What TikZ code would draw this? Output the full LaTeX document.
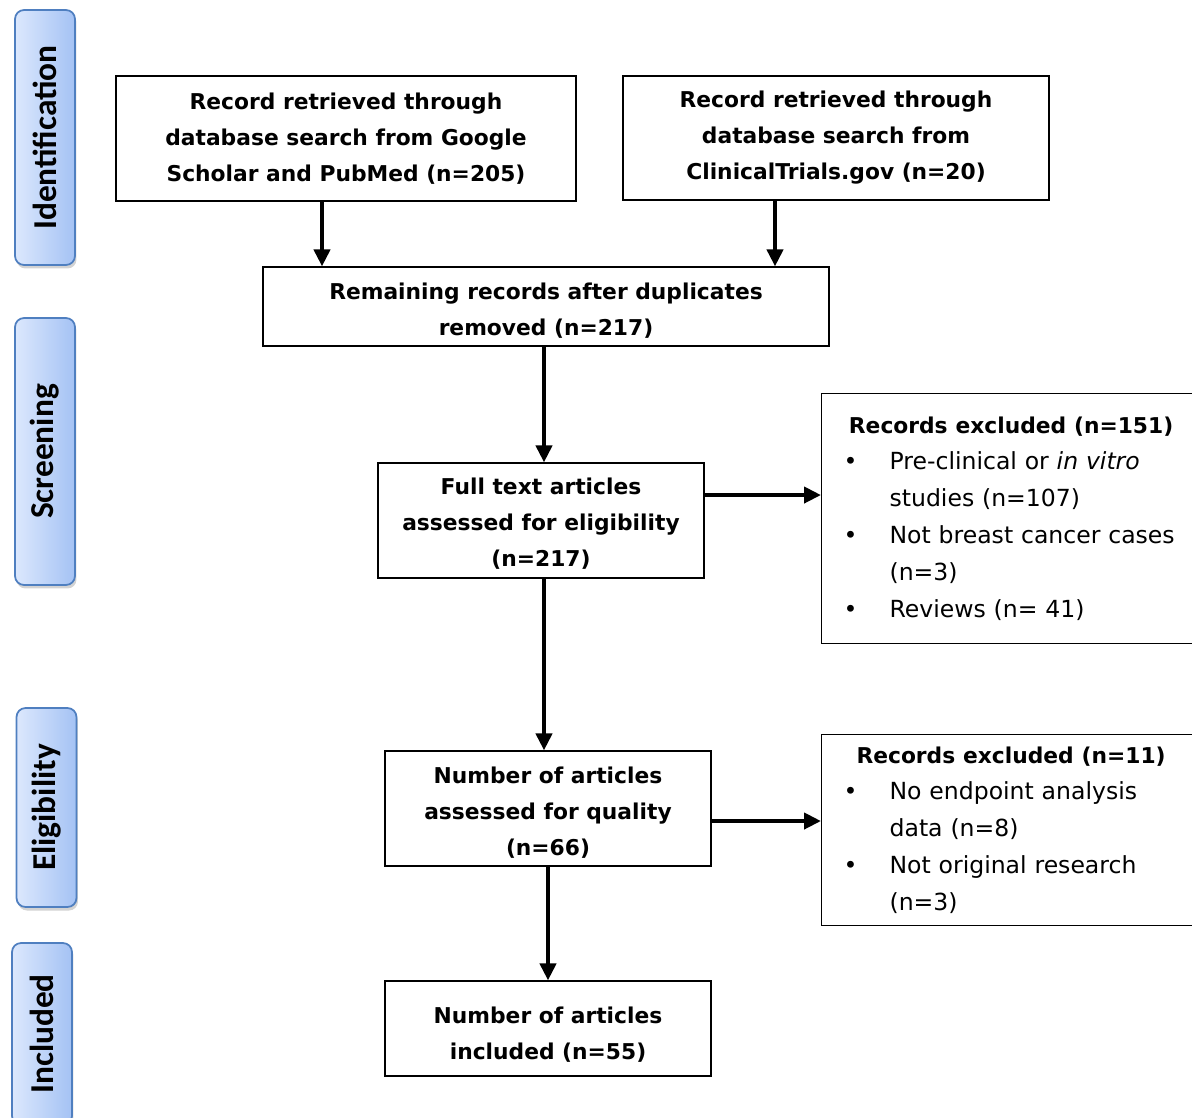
\documentclass[tikz,border=0pt]{standalone}
\usepackage{fontspec}
\setmainfont{DejaVu Sans}
\newfontfamily\sidefont{Carlito}
\usetikzlibrary{arrows.meta, shadows}
\definecolor{sideblue}{HTML}{4F7FC0}
\definecolor{sidelight}{HTML}{DCE8FD}
\definecolor{sidedark}{HTML}{A4C2F4}
\tikzstyle{arrow} = [line width=2.3pt,-{Triangle[length=0.34cm,width=0.32cm]}]
\newcommand\boxstrut[1]{\rule{0pt}{#1}}

\begin{document}
\begin{tikzpicture}
        [
            x=0.02cm, y=-0.02cm,
            box/.style={rectangle,draw=black,line width=0.7pt,align=center,inner sep=0pt,
                font=\fontsize{12.4}{20.5}\selectfont\bfseries},
            exclbox/.style={rectangle,draw=black,line width=0.7pt,align=left,anchor=north west,
                inner xsep=0.44cm,inner ysep=0pt,text width=6.7cm,
                font=\fontsize{13.4}{21}\selectfont},
            stage/.style={rectangle,rounded corners=0.18cm,draw=sideblue,line width=1pt,
                left color=sidelight,right color=sidedark,minimum width=1.2cm,
                drop shadow={shadow xshift=0.03cm,shadow yshift=-0.07cm,opacity=0.35},
                font=\sidefont\fontsize{19}{19}\selectfont\bfseries},
        ]

    \useasboundingbox (0,0) rectangle (1192,1117);

    % stages on the left
    \node[stage,minimum height=5.1cm] (ident) at (45,137.5){\rotatebox{90}{Identification}};
    \node[stage,minimum height=5.34cm] (screen) at (45,451.5){\rotatebox{90}{Screening}};
    \node[stage,minimum height=3.98cm] (elig) at (46.5,807.5){\rotatebox{90}{Eligibility}};
    \node[stage,minimum height=3.64cm] (incl) at (42,1034){\rotatebox{90}{Included}};

    % main boxes
    \node[box,minimum width=9.2cm,minimum height=2.5cm] (scholar) at (346,138.5)
        {Record retrieved through\\database search from Google\\Scholar and PubMed (n=205)};
    \node[box,minimum width=8.52cm,minimum height=2.48cm] (trials) at (836,138)
        {Record retrieved through\\database search from\\ClinicalTrials.gov (n=20)};
    \node[box,minimum width=11.32cm,minimum height=1.58cm] (dedup) at (546,306.5)
        {\boxstrut{14pt}Remaining records after duplicates\\removed (n=217)};
    \node[box,minimum width=6.52cm,minimum height=2.3cm] (fulltext) at (541,520.5)
        {\boxstrut{13.5pt}Full text articles\\assessed for eligibility\\(n=217)};
    \node[box,minimum width=6.52cm,minimum height=2.3cm] (quality) at (548,808.5)
        {\boxstrut{14pt}Number of articles\\assessed for quality\\(n=66)};
    \node[box,minimum width=6.52cm,minimum height=1.9cm] (included) at (548,1028.5)
        {\boxstrut{16pt}Number of articles\\included (n=55)};

    % excluded records
    \node[exclbox,minimum height=5cm] (excl1) at (821,393)
        {\makebox[\linewidth]{\fontsize{12.4}{21}\selectfont\bfseries Records excluded (n=151)}\\
         \makebox[0.92cm][l]{\textbullet}Pre-clinical or \textit{in vitro}\\
         \hspace*{0.92cm}studies (n=107)\\
         \makebox[0.92cm][l]{\textbullet}Not breast cancer cases\\
         \hspace*{0.92cm}(n=3)\\
         \makebox[0.92cm][l]{\textbullet}Reviews (n= 41)};
    \node[exclbox,minimum height=3.82cm] (excl2) at (821,734)
        {\makebox[\linewidth]{\fontsize{12.4}{21}\selectfont\bfseries Records excluded (n=11)}\\
         \makebox[0.92cm][l]{\textbullet}No endpoint analysis\\
         \hspace*{0.92cm}data (n=8)\\
         \makebox[0.92cm][l]{\textbullet}Not original research\\
         \hspace*{0.92cm}(n=3)};

    % arrows
    \draw[arrow] ([xshift=-0.48cm]scholar.south) -- ([xshift=-0.48cm]scholar.south |- dedup.north);
    \draw[arrow] ([xshift=-1.22cm]trials.south) -- ([xshift=-1.22cm]trials.south |- dedup.north);
    \draw[arrow] ([xshift=-0.04cm]dedup.south) -- ([xshift=-0.04cm]dedup.south |- fulltext.north);
    \draw[arrow] ([xshift=0.06cm]fulltext.south) -- ([xshift=0.06cm]fulltext.south |- quality.north);
    \draw[arrow] (quality) -- (included);
    \draw[arrow] ([yshift=0.51cm]fulltext.east) -- ([yshift=0.51cm]fulltext.east -| excl1.west);
    \draw[arrow] ([yshift=-0.25cm]quality.east) -- ([yshift=-0.25cm]quality.east -| excl2.west);
    \end{tikzpicture}
\end{document}
